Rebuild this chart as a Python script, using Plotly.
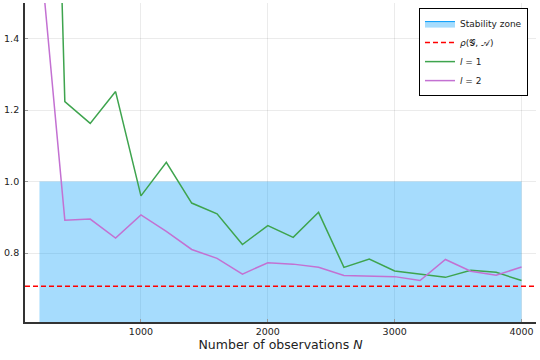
import plotly.graph_objects as go

# sample sizes and measured values
n_obs = [200, 400, 600, 800, 1000, 1200, 1400, 1600, 1800, 2000,
         2200, 2400, 2600, 2800, 3000, 3200, 3400, 3600, 3800, 4000]
l1_vals = [3.8, 1.224, 1.163, 1.252, 0.960, 1.054, 0.940, 0.910, 0.824, 0.877,
           0.844, 0.914, 0.760, 0.783, 0.750, 0.740, 0.732, 0.752, 0.746, 0.723]
l2_vals = [1.665, 0.892, 0.895, 0.842, 0.907, 0.861, 0.810, 0.785, 0.741, 0.773,
           0.769, 0.760, 0.737, 0.736, 0.734, 0.723, 0.782, 0.749, 0.738, 0.761]

zone_x = [200, 4000]
zone_top = [1.0, 1.0]
rho = 0.7071

x_range = [86, 4114]
y_range = [0.607, 1.5]

fig = go.Figure()

fig.add_trace(go.Scatter(
    x=zone_x, y=zone_top, mode='lines', fill='tozeroy',
    fillcolor='rgba(0,154,250,0.35)', line=dict(width=0),
    showlegend=False, hoverinfo='skip'
))
# legend entry for the zone
fig.add_trace(go.Scatter(
    x=[None], y=[None], mode='lines', fill='toself',
    fillcolor='rgba(0,154,250,0.35)', line=dict(color='#009AFA', width=1),
    name='Stability zone'
))
fig.add_trace(go.Scatter(
    x=x_range, y=[rho, rho], mode='lines',
    line=dict(color='red', width=1.5, dash='5px,3px'),
    name='<i>ρ</i>(𝒢, 𝒜)'
))
fig.add_trace(go.Scatter(
    x=n_obs, y=l1_vals, mode='lines',
    line=dict(color='#3EA44E', width=1.5),
    name='<i>l</i> = 1'
))
fig.add_trace(go.Scatter(
    x=n_obs, y=l2_vals, mode='lines',
    line=dict(color='#C371D2', width=1.5),
    name='<i>l</i> = 2'
))

fig.update_layout(
    width=540, height=360,
    margin=dict(l=25, r=4, t=3, b=38, autoexpand=False),
    paper_bgcolor='white', plot_bgcolor='white',
    font=dict(family='DejaVu Sans', size=9.5, color='#222'),
    legend=dict(
        x=0.771, y=0.984, xanchor='left', yanchor='top',
        bordercolor='black', borderwidth=1, bgcolor='white',
        font=dict(size=9), tracegroupgap=0, itemwidth=30
    ),
)
fig.update_xaxes(
    range=x_range, tickvals=[1000, 2000, 3000, 4000],
    showgrid=True, gridcolor='rgba(0,0,0,0.08)', zeroline=False,
    showline=True, linecolor='#333', linewidth=1.8,
    ticks='inside', ticklen=3, tickcolor='#999', automargin=False,
    title=dict(text='Number of observations <i>N</i>', font=dict(size=12.5), standoff=4)
)
fig.update_yaxes(
    range=y_range, tickvals=[0.8, 1.0, 1.2, 1.4], ticktext=['0.8', '1.0', '1.2', '1.4'],
    showgrid=True, gridcolor='rgba(0,0,0,0.08)', zeroline=False,
    showline=True, linecolor='#333', linewidth=1.8,
    ticks='inside', ticklen=3, tickcolor='#999', automargin=False,
    ticklabelstandoff=2
)

# drop the page's default body margin so the figure sits at the window corner
fig.write_html("out.html", config={'displayModeBar': False},
               post_script="document.body.style.margin='0';")
